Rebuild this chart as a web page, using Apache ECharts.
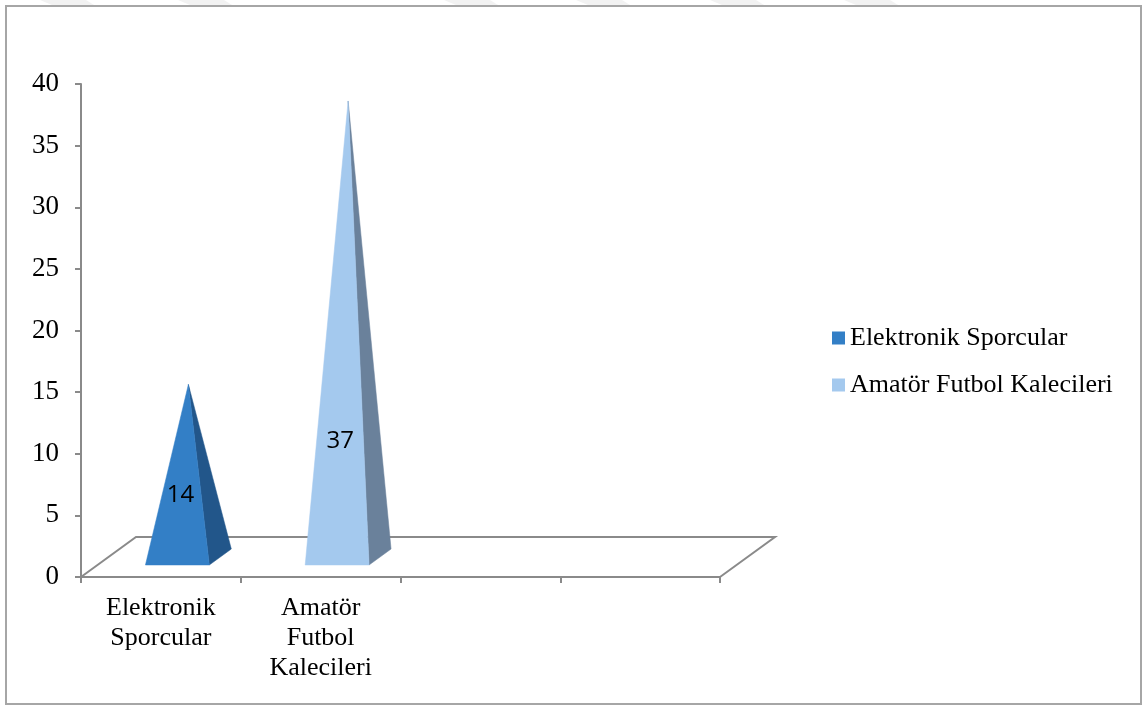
<!DOCTYPE html>
<html>
<head>
<meta charset="utf-8">
<script src="https://cdn.jsdelivr.net/npm/echarts@6/dist/echarts.min.js"></script>
<style>
  html, body { margin: 0; padding: 0; background: #ffffff; }
  #chart { width: 1143px; height: 706px; }
</style>
</head>
<body>
<div id="chart"></div>
<script>
// Category bands along the floor (the last two are empty slots)
const categories = ['Elektronik Sporcular', 'Amatör Futbol Kalecileri', '', ''];
// Series names and their values
const seriesNames = ['Elektronik Sporcular', 'Amatör Futbol Kalecileri'];
const elektronikSporcular = [14];
const amatorFutbolKalecileri = [37];
// Value axis ticks
const yTicks = { min: 0, max: 40, interval: 5 };

const SERIF = '"Liberation Serif", "Times New Roman", serif';
const SANS = '"Open Sans", "Liberation Sans", sans-serif';

// 3D floor depth vector (pixels), pyramids sit between 30% and 70% of it
const DEPTH = [55, -40];
const FRONT = 0.3, BACK = 0.7, MID = 0.5;
const AXIS_GREY = '#8a8a8a';

const palette = [
  { front: '#337fc6', side: '#22568a' },
  { front: '#a4c9ee', side: '#6a819b' }
];

function pyramidRenderer(colors) {
  return function (params, api) {
    const cat = api.value(0);
    const val = api.value(1);
    const base = api.coord([cat, 0]);
    const topY = api.coord([cat, val])[1];
    const half = api.size([1, 0])[0] * 0.2;
    const fl = [base[0] - half + DEPTH[0] * FRONT, base[1] + DEPTH[1] * FRONT];
    const fr = [base[0] + half + DEPTH[0] * FRONT, base[1] + DEPTH[1] * FRONT];
    const br = [base[0] + half + DEPTH[0] * BACK, base[1] + DEPTH[1] * BACK];
    const apex = [base[0] + DEPTH[0] * MID, topY + DEPTH[1] * MID];
    const h = fl[1] - apex[1];
    const labelY = fl[1] - (36 + 0.19 * h);
    const labelX = (fl[0] + fr[0]) / 2 + 3;
    return {
      type: 'group',
      children: [
        { type: 'polygon', shape: { points: [fr, br, apex] },
          style: { fill: colors.side, stroke: colors.side, lineWidth: 0.5 } },
        { type: 'polygon', shape: { points: [fl, fr, apex] },
          style: { fill: colors.front, stroke: colors.front, lineWidth: 0.5 } },
        { type: 'text', x: labelX, y: labelY,
          style: { text: String(val), fill: '#000', font: '24px ' + SANS,
                   align: 'center', verticalAlign: 'middle' } }
      ]
    };
  };
}

function floorRenderer(params, api) {
  const cs = params.coordSys;
  const x0 = cs.x, x1 = cs.x + cs.width, yb = cs.y + cs.height;
  return {
    type: 'polyline',
    shape: { points: [[x0, yb], [x0 + DEPTH[0], yb + DEPTH[1]],
                      [x1 + DEPTH[0], yb + DEPTH[1]], [x1, yb]] },
    style: { stroke: AXIS_GREY, lineWidth: 2, fill: null }
  };
}

// faint stripes along the top edge of the page
const stripeXs = [40, 178, 444, 576, 710, 844];
const stripes = stripeXs.map(x => ({
  type: 'polygon', z: -1,
  shape: { points: [[x, 0], [x + 46, 0], [x + 54, 5], [x + 12, 5]] },
  style: { fill: '#f2f2f2' }
}));

const chart = echarts.init(document.getElementById('chart'), null, { renderer: 'canvas' });
chart.setOption({
  backgroundColor: '#ffffff',
  animation: false,
  graphic: stripes.concat([{
    type: 'rect', z: 0,
    shape: { x: 6, y: 6, width: 1135, height: 698 },
    style: { fill: null, stroke: '#a6a6a6', lineWidth: 2 }
  }]),
  grid: { left: 81, top: 84, width: 639, height: 493 },
  legend: {
    orient: 'vertical',
    left: 827, top: 318,
    icon: 'rect',
    itemWidth: 13, itemHeight: 13, itemGap: 17,
    data: seriesNames,
    textStyle: { fontFamily: SERIF, fontSize: 26, color: '#000', lineHeight: 30 }
  },
  xAxis: {
    type: 'category',
    data: categories,
    axisLine: { lineStyle: { color: AXIS_GREY, width: 2 } },
    axisTick: { show: true, interval: 0, length: 6, lineStyle: { color: AXIS_GREY, width: 2 } },
    axisLabel: {
      interval: 0, margin: 16, color: '#000',
      fontFamily: SERIF, fontSize: 26, lineHeight: 30,
      formatter: v => v.split(' ').join('\n')
    },
    splitLine: { show: false }
  },
  yAxis: {
    type: 'value',
    min: yTicks.min, max: yTicks.max, interval: yTicks.interval,
    axisLine: { show: true, lineStyle: { color: AXIS_GREY, width: 2 } },
    axisTick: { show: true, length: 6, lineStyle: { color: AXIS_GREY, width: 2 } },
    axisLabel: { margin: 22, color: '#000', fontFamily: SERIF, fontSize: 27 },
    splitLine: { show: false }
  },
  series: [
    {
      type: 'custom', name: 'floor', silent: true, clip: false, z: 1,
      renderItem: floorRenderer,
      data: [[0, 0]]
    },
    {
      type: 'custom', name: seriesNames[0], clip: false, z: 3,
      itemStyle: { color: palette[0].front },
      renderItem: pyramidRenderer(palette[0]),
      encode: { x: 0, y: 1 },
      data: elektronikSporcular.map(v => [categories[0], v])
    },
    {
      type: 'custom', name: seriesNames[1], clip: false, z: 3,
      itemStyle: { color: palette[1].front },
      renderItem: pyramidRenderer(palette[1]),
      encode: { x: 0, y: 1 },
      data: amatorFutbolKalecileri.map(v => [categories[1], v])
    }
  ]
});
</script>
</body>
</html>
